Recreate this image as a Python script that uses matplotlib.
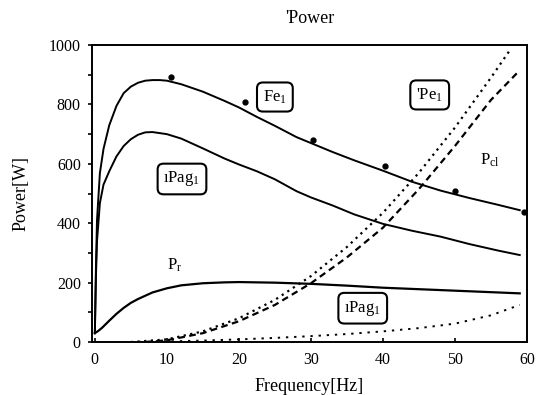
import matplotlib
matplotlib.use("Agg")
import matplotlib.pyplot as plt
from matplotlib.ticker import MultipleLocator

plt.rcParams['font.family'] = ['Liberation Serif', 'DejaVu Serif']
plt.rcParams['mathtext.fontset'] = 'stix'

# Fe1 (top solid curve)
fe_x = [0, 0.15, 0.3, 0.7, 1.2, 2, 3, 4, 5, 6, 7, 8, 9, 10, 12, 15, 18, 20, 22.5, 25,
        28, 30, 33, 36, 40, 44, 48, 52, 56, 59]
fe_y = [30, 250, 411, 569, 650, 730, 795, 838, 860, 873, 880, 882, 882, 880, 868, 843,
        812, 790, 758, 728, 690, 670, 640, 612, 577, 540, 510, 485, 462, 444]
# measured points on Fe1
dot_x = [10.6, 20.8, 30.3, 40.3, 50.0, 59.6]
dot_y = [892, 808, 680, 593, 508, 438]

# Pag1 (second solid curve)
pag_x = [0, 0.15, 0.3, 0.7, 1.2, 2, 3, 4, 5, 6, 7, 8, 10, 12, 15, 18, 20, 22.5, 25,
         28, 30, 33, 36, 40, 44, 48, 52, 56, 59]
pag_y = [30, 220, 340, 468, 530, 575, 625, 660, 683, 698, 706, 707, 700, 685, 652, 618,
         598, 575, 548, 508, 487, 460, 430, 398, 375, 355, 330, 308, 293]

# Pr (lower solid curve)
pr_x = [0, 0.5, 1, 2, 3, 4, 5, 6, 8, 10, 12, 15, 18, 20, 25, 30, 35, 40, 45, 50, 55, 59]
pr_y = [30, 38, 48, 72, 95, 115, 132, 145, 167, 181, 191, 198, 201, 202, 200, 196, 190,
        183, 178, 173, 168, 164]

# Pe1 (dotted, steep)
pe_x = [5, 10, 15, 20, 25, 30, 35, 40, 45, 50, 55, 57.5]
pe_y = [0, 9, 36, 80, 142, 222, 320, 435, 570, 722, 890, 978]

# Pcl (dashed)
pcl_x = [7, 10, 15, 20, 25, 30, 35, 40, 45, 50, 55, 59]
pcl_y = [0, 6, 30, 70, 125, 198, 285, 385, 515, 660, 815, 915]

# lower Pag1 (dotted, low)
pagl_x = [5, 10, 15, 20, 25, 30, 35, 40, 45, 50, 55, 59]
pagl_y = [0, 2, 5, 9, 14, 20, 27, 36, 47, 62, 90, 125]

x_ticks = [0, 10, 20, 30, 40, 50, 60]
y_ticks = [0, 200, 400, 600, 800, 1000]

fig = plt.figure(figsize=(5.41, 3.95), dpi=100)
ax = fig.add_axes([0.170, 0.134, 0.804, 0.752])

ax.plot(fe_x, fe_y, color='black', lw=1.4)
ax.plot(dot_x, dot_y, 'o', color='black', ms=3.5)
ax.plot(pag_x, pag_y, color='black', lw=1.4)
ax.plot(pr_x, pr_y, color='black', lw=1.6)
ax.plot(pe_x, pe_y, color='black', lw=1.6, linestyle=(0, (1, 2)))
ax.plot(pcl_x, pcl_y, color='black', lw=1.6, linestyle=(0, (3, 2)))
ax.plot(pagl_x, pagl_y, color='black', lw=1.4, linestyle=(0, (1.2, 3)))

ax.set_xlim(-0.4, 60)
ax.set_ylim(0, 1000)
ax.set_xticks(x_ticks)
ax.set_yticks(y_ticks)
ax.yaxis.set_minor_locator(MultipleLocator(100))
ax.tick_params(axis='y', which='both', direction='out', length=3, width=1.2, labelsize=11.5, pad=5)
ax.tick_params(axis='x', which='both', direction='in', length=3, width=1.2, labelsize=11.5, pad=7)
for s in ax.spines.values():
    s.set_linewidth(1.4)

ax.set_xlabel('Frequency[Hz]', fontsize=13, labelpad=7)
ax.set_ylabel('Power[W]', fontsize=13, labelpad=14)
ax.set_title("'Power", fontsize=13, pad=16)

box = dict(boxstyle='round,pad=0.35', fc='white', ec='black', lw=1.5)
ax.text(25.0, 825, 'Fe$_\\mathregular{1}$', fontsize=12, ha='center', va='center', bbox=box)
ax.text(12.1, 549, 'ıPag$_\\mathregular{1}$', fontsize=12, ha='center', va='center', bbox=box)
ax.text(46.5, 832, "'Pe$_\\mathregular{1}$", fontsize=12, ha='center', va='center', bbox=box)
ax.text(37.2, 114, 'ıPag$_\\mathregular{1}$', fontsize=12, ha='center', va='center', bbox=box)
ax.text(54.9, 613, 'P$_\\mathregular{cl}$', fontsize=12, ha='center', va='center')
ax.text(11.1, 259, 'P$_\\mathregular{r}$', fontsize=12, ha='center', va='center')

fig.savefig('out.png', dpi=100)
